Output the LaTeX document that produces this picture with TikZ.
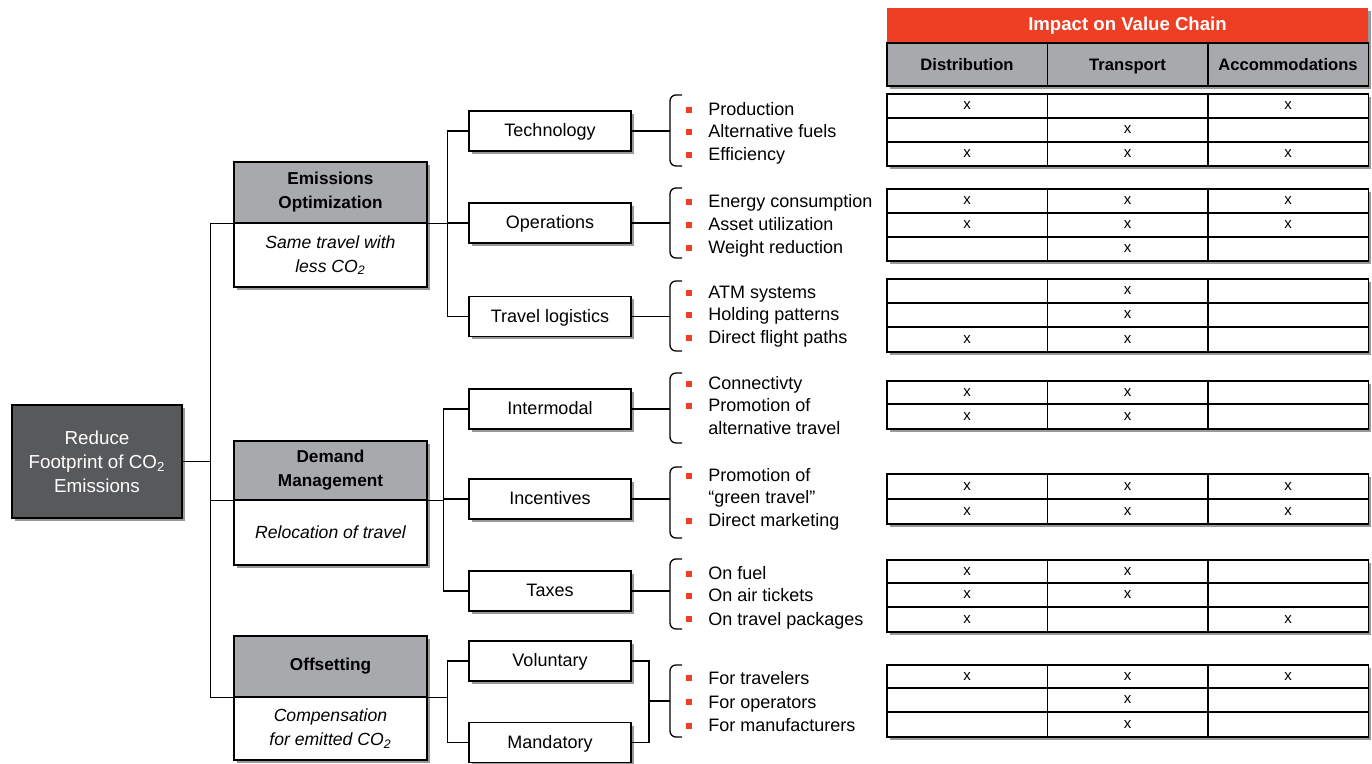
\documentclass[tikz,border=0pt]{standalone}
\usepackage{fontspec}
\setmainfont{Liberation Sans}
\usetikzlibrary{shadows}

\definecolor{chartred}{HTML}{EE3E23}
\definecolor{boxgray}{HTML}{A7A9AC}
\definecolor{rootgray}{HTML}{58595B}

\tikzset{
    boxshadow/.style={drop shadow={shadow xshift=1.5pt,shadow yshift=-1.5pt,fill=black!40,opacity=1}},
    rootbox/.style={draw=black,line width=0.75pt,fill=rootgray,text=white,boxshadow,
        minimum width=85pt,minimum height=56.5pt,inner sep=0pt,align=center,
        font=\fontsize{9.4}{12}\selectfont},
    cathead/.style={draw=black,line width=0.75pt,fill=boxgray,boxshadow,minimum width=96.5pt,
        inner sep=0pt,align=center,font=\fontsize{8.6}{12}\selectfont\bfseries},
    catsub/.style={draw=black,line width=0.75pt,fill=white,boxshadow,minimum width=96.5pt,
        inner sep=0pt,align=center,font=\fontsize{8.8}{12}\selectfont\itshape},
    subbox/.style={draw=black,line width=0.75pt,fill=white,boxshadow,minimum width=81pt,
        minimum height=20pt,inner sep=0pt,text height=1.55ex,text depth=.45ex,
        font=\fontsize{9}{11}\selectfont},
    itemtext/.style={anchor=base west,inner sep=0pt,font=\fontsize{9}{11}\selectfont},
    bullet/.style={fill=chartred,minimum size=3pt,inner sep=0pt},
    link/.style={line width=0.65pt},
    bracket/.style={line width=0.65pt,rounded corners=3pt},
    redhead/.style={fill=chartred,text=white,boxshadow,minimum width=240.5pt,minimum height=17.5pt,
        inner sep=0pt,font=\fontsize{9.3}{11}\selectfont\bfseries},
    colhead/.style={draw=black,line width=0.75pt,fill=boxgray,boxshadow,minimum width=80.25pt,
        minimum height=21.5pt,inner sep=0pt,text height=1.55ex,text depth=.45ex,
        font=\fontsize{8.3}{10}\selectfont\bfseries},
    cell/.style={draw=black,line width=0.75pt,fill=white,boxshadow,minimum width=80.25pt,
        inner sep=0pt,font=\fontsize{7.5}{9}\selectfont}
}

\begin{document}
\begin{tikzpicture}[x=0.5pt,y=-0.5pt]
    \useasboundingbox (0,0) rectangle (1372,764);

    % Root and categories
    \node[rootbox] (root) at (97,461.5) {Reduce\\Footprint of CO\textsubscript{2}\\Emissions};

    \node[cathead,minimum height=30.5pt] (emishead) at (330.5,192.5) {Emissions\\Optimization};
    \node[catsub,minimum height=32pt] (emissub) at (330.5,255) {Same travel with\\less CO\textsubscript{2}};
    \node[cathead,minimum height=29.5pt] (demandhead) at (330.5,470.5) {Demand\\Management};
    \node[catsub,minimum height=32.5pt] (demandsub) at (330.5,532.5) {Relocation of travel};
    \node[cathead,minimum height=30.5pt] (offsethead) at (330.5,666.5) {Offsetting};
    \node[catsub,minimum height=31.5pt] (offsetsub) at (330.5,728.5) {Compensation\\for emitted CO\textsubscript{2}};

    \coordinate (trunk) at ([xshift=14pt]root.east);
    \draw[link] (root.east) -- (trunk);
    \foreach \c in {emis,demand,offset}
        \draw[link] (trunk) |- (\c head.south west);

    % Levers
    \node[subbox] (tech) at (550,131) {Technology};
    \node[subbox] (oper) at (550,223) {Operations};
    \node[subbox] (logis) at (550,316.5) {Travel logistics};
    \node[subbox] (inter) at (550,409) {Intermodal};
    \node[subbox] (incent) at (550,499) {Incentives};
    \node[subbox] (taxes) at (550,591) {Taxes};
    \node[subbox] (volun) at (550,661) {Voluntary};
    \node[subbox] (mandat) at (550,742.5) {Mandatory};

    \coordinate (emisfork) at ([xshift=10pt]emishead.south east);
    \coordinate (demandfork) at ([xshift=8pt]demandhead.south east);
    \coordinate (offsetfork) at ([xshift=10pt]offsethead.south east);
    \draw[link] (emishead.south east) -- (emisfork);
    \draw[link] (demandhead.south east) -- (demandfork);
    \draw[link] (offsethead.south east) -- (offsetfork);
    \foreach \s in {tech,oper,logis}
        \draw[link] (emisfork) |- (\s.west);
    \foreach \s in {inter,incent,taxes}
        \draw[link] (demandfork) |- (\s.west);
    \foreach \s in {volun,mandat}
        \draw[link] (offsetfork) |- (\s.west);

    \coordinate (offjoin) at (649,701);
    \draw[link] (volun.east) -| (offjoin);
    \draw[link] (mandat.east) -| (offjoin);

    % Brackets
    \foreach \p/\t/\b in {tech.east/95/166, oper.east/188/258, logis.east/281/351,
            inter.east/373/443, incent.east/467/538, taxes.east/559/629, offjoin/665/737}
       {
            \draw[bracket] (682,\t) -- (670,\t) -- (670,\b) -- (682,\b);
            \draw[link] (\p) -- (\p -| 670,0);
       }

    % Bullet lists
    \foreach \y/\b/\t [count=\i] in {110/1/Production, 132/1/Alternative fuels, 155/1/Efficiency,
            202/1/Energy consumption, 225/1/Asset utilization, 248/1/Weight reduction,
            293/1/ATM systems, 315/1/Holding patterns, 338/1/Direct flight paths,
            384/1/Connectivty, 406/1/Promotion of, 429/0/alternative travel,
            476/1/Promotion of, 498/0/“green travel”, 521/1/Direct marketing,
            574/1/On fuel, 596/1/On air tickets, 619/1/On travel packages,
            678/1/For travelers, 702/1/For operators, 726/1/For manufacturers}
       {
            \node[itemtext] (item\i) at (708,{\y+6}) {\t};
            \ifnum\b=1 \node[bullet] (dot\i) at (688.5,\y) {}; \fi
       }

    % Impact table
    \node[redhead] (impact) at (1127.5,25.5) {Impact on Value Chain};
    \node[colhead] (distr) at (967,64.5) {Distribution};
    \node[colhead] (transp) at (1127.5,64.5) {Transport};
    \node[colhead] (accom) at (1288,64.5) {Accommodations};

    \foreach \top/\bot/\a/\b/\c [count=\r] in {94/118/1/0/1, 118/142/0/1/0, 142/166/1/1/1,
            189/213/1/1/1, 213/237/1/1/1, 237/261/0/1/0,
            279/303/0/1/0, 303/327/0/1/0, 327/352/1/1/0,
            381/404/1/1/0, 404/429/1/1/0,
            474/499/1/1/1, 499/524/1/1/1,
            560/583/1/1/0, 583/607/1/1/0, 607/632/1/0/1,
            665/688/1/1/1, 688/712/0/1/0, 712/737/0/1/0}
       {
            \pgfmathsetmacro\h{(\bot-\top)*0.5}
            \pgfmathsetmacro\m{(\top+\bot)/2}
            \foreach \col/\xc/\f in {1/967/\a, 2/1127.5/\b, 3/1288/\c}
                \node[cell,minimum height=\h pt] (cell-\r-\col) at (\xc,\m) {\ifnum\f=1 x\fi};
       }
\end{tikzpicture}
\end{document}
